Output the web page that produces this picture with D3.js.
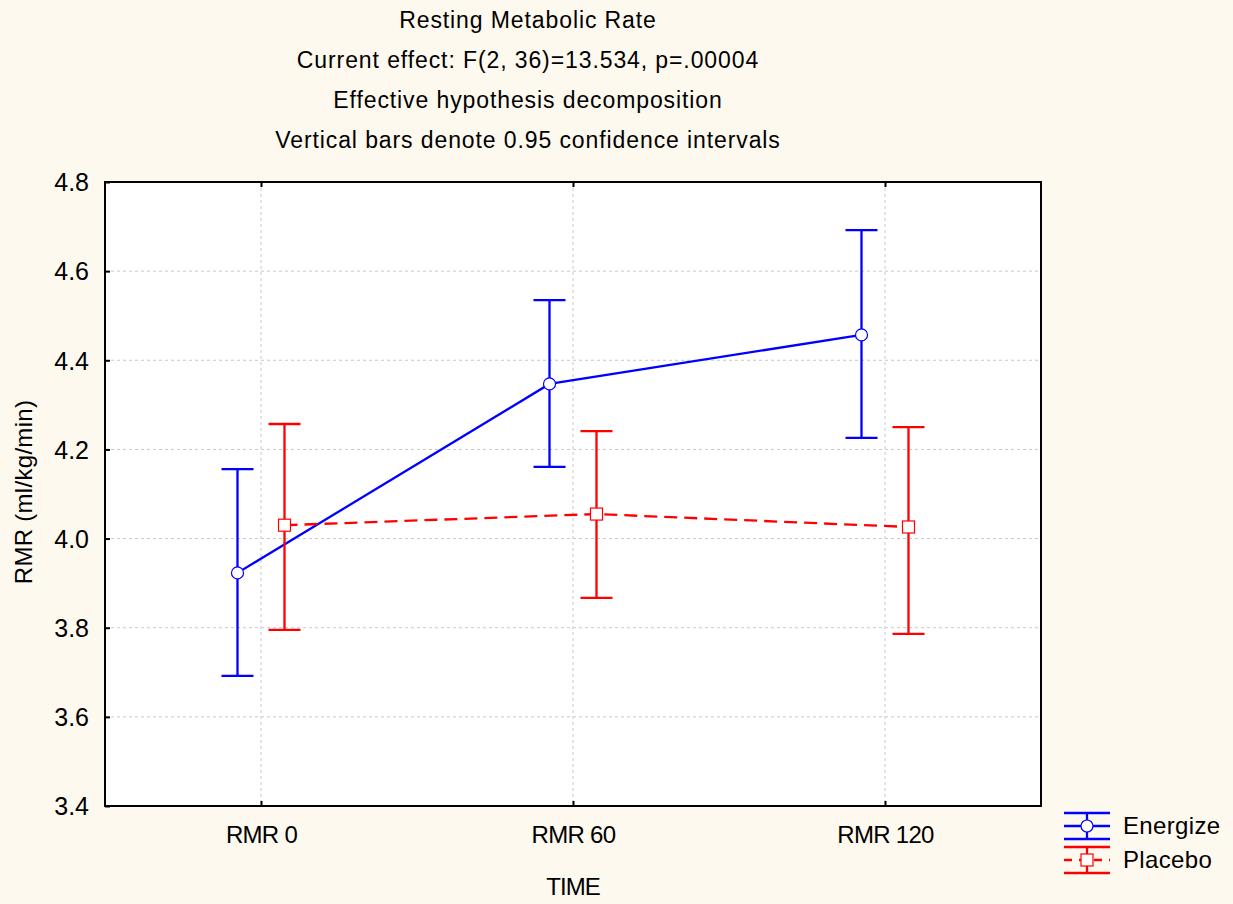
<!DOCTYPE html>
<html><head><meta charset="utf-8">
<script src="https://cdn.jsdelivr.net/npm/d3@7"></script>
<style>
html,body{margin:0;padding:0;background:#FEF9EF;}
text{font-family:"Liberation Sans",Arial,sans-serif;fill:#000;}
</style></head>
<body>
<svg id="chart" width="1233" height="904"></svg>
<script>
const titleLines = ["Resting Metabolic Rate","Current effect: F(2, 36)=13.534, p=.00004","Effective hypothesis decomposition","Vertical bars denote 0.95 confidence intervals"];
const categories = ["RMR 0","RMR 60","RMR 120"];
const yTicks = [3.4,3.6,3.8,4.0,4.2,4.4,4.6,4.8];
const seriesNames = ["Energize","Placebo"];
const energizeMean = [3.923,4.347,4.457];
const energizeLow  = [3.692,4.161,4.226];
const energizeHigh = [4.156,4.535,4.692];
const placeboMean  = [4.030,4.055,4.026];
const placeboLow   = [3.795,3.867,3.786];
const placeboHigh  = [4.257,4.241,4.250];
const xLabel = "TIME";
const yLabel = "RMR (ml/kg/min)";

const series = [
  {name:seriesNames[0], mean:energizeMean, low:energizeLow, high:energizeHigh, color:"#0000FF", dash:null, marker:"circle", offset:-23.5},
  {name:seriesNames[1], mean:placeboMean, low:placeboLow, high:placeboHigh, color:"#FF0000", dash:"13,7", marker:"square", offset:23.5}
];

const svg = d3.select("#chart");
const L=105, R=1041, T=182, B=806;
const x = d3.scalePoint().domain(categories).range([L,R]).padding(0.5);
const y = d3.scaleLinear().domain([3.4,4.8]).range([B,T]);

svg.append("rect").attr("x",L).attr("y",T).attr("width",R-L).attr("height",B-T).attr("fill","#fff");

// grid
const grid = svg.append("g").attr("stroke","#c8c8c8").attr("stroke-width",1).attr("stroke-dasharray","3,3");
yTicks.forEach(t=>{ if(t>3.4 && t<4.8) grid.append("line").attr("x1",L).attr("x2",R).attr("y1",y(t)).attr("y2",y(t)); });
categories.forEach(c=>{ grid.append("line").attr("x1",x(c)).attr("x2",x(c)).attr("y1",T).attr("y2",B); });

// axes (ticks inward)
const yAxis = d3.axisLeft(y).tickValues(yTicks).tickFormat(d3.format(".1f")).tickSize(-5).tickPadding(16);
const gy = svg.append("g").attr("transform",`translate(${L},0)`).call(yAxis);
gy.select(".domain").remove();
gy.selectAll(".tick line").attr("stroke","#000").attr("stroke-width",2);
gy.selectAll(".tick text").attr("font-size",25).attr("font-family","Liberation Sans, Arial, sans-serif").attr("dy","0.35em");

const xAxis = d3.axisBottom(x).tickSize(-5).tickPadding(20);
const gx = svg.append("g").attr("transform",`translate(0,${B})`).call(xAxis);
gx.select(".domain").remove();
gx.selectAll(".tick line").attr("stroke","#000").attr("stroke-width",2);
gx.selectAll(".tick text").attr("font-size",24).attr("font-family","Liberation Sans, Arial, sans-serif").attr("letter-spacing","-0.7");

const xTop = d3.axisTop(x).tickSize(-5).tickFormat("");
const gxt = svg.append("g").attr("transform",`translate(0,${T})`).call(xTop);
gxt.select(".domain").remove();
gxt.selectAll(".tick line").attr("stroke","#000").attr("stroke-width",2);

// frame
svg.append("rect").attr("x",L).attr("y",T).attr("width",R-L).attr("height",B-T).attr("fill","none").attr("stroke","#000").attr("stroke-width",2);

// series
const cap = 16;
series.forEach(s=>{
  const g = svg.append("g");
  const pts = categories.map((c,i)=>({x:x(c)+s.offset, m:s.mean[i], lo:s.low[i], hi:s.high[i]}));
  g.append("path").attr("d", d3.line().x(d=>d.x).y(d=>y(d.m))(pts))
    .attr("fill","none").attr("stroke",s.color).attr("stroke-width",2.3)
    .attr("stroke-dasharray",s.dash);
  pts.forEach(p=>{
    g.append("line").attr("x1",p.x).attr("x2",p.x).attr("y1",y(p.lo)).attr("y2",y(p.hi)).attr("stroke",s.color).attr("stroke-width",2.3);
    [p.lo,p.hi].forEach(v=>g.append("line").attr("x1",p.x-cap).attr("x2",p.x+cap).attr("y1",y(v)).attr("y2",y(v)).attr("stroke",s.color).attr("stroke-width",2.3));
    if(s.marker==="circle") g.append("circle").attr("cx",p.x).attr("cy",y(p.m)).attr("r",6).attr("fill","#fff").attr("stroke",s.color).attr("stroke-width",1.2);
    else g.append("rect").attr("x",p.x-6).attr("y",y(p.m)-6).attr("width",12).attr("height",12).attr("fill","#fff").attr("stroke",s.color).attr("stroke-width",1.2);
  });
});

// titles
const tg = svg.append("g");
titleLines.forEach((t,i)=>tg.append("text").attr("x",528).attr("y",28+i*40).attr("text-anchor","middle").attr("font-size",23).attr("letter-spacing","0.9").text(t));

svg.append("text").attr("x",573).attr("y",895).attr("text-anchor","middle").attr("font-size",24).attr("letter-spacing","-1").text(xLabel);
svg.append("text").attr("transform","translate(32,492) rotate(-90)").attr("text-anchor","middle").attr("font-size",24).attr("letter-spacing","0.3").text(yLabel);

// legend
const lg = svg.append("g");
const legY = [826, 860];
series.forEach((s,i)=>{
  const cy = legY[i], x0=1064, x1=1110, cx=1087;
  lg.append("line").attr("x1",x0).attr("x2",x1).attr("y1",cy-13).attr("y2",cy-13).attr("stroke",s.color).attr("stroke-width",2.3);
  lg.append("line").attr("x1",x0).attr("x2",x1).attr("y1",cy+13).attr("y2",cy+13).attr("stroke",s.color).attr("stroke-width",2.3);
  lg.append("line").attr("x1",cx).attr("x2",cx).attr("y1",cy-13).attr("y2",cy+13).attr("stroke",s.color).attr("stroke-width",2.3);
  lg.append("line").attr("x1",x0).attr("x2",x1).attr("y1",cy).attr("y2",cy).attr("stroke",s.color).attr("stroke-width",2.3).attr("stroke-dasharray",s.dash?"8,7":null);
  if(s.marker==="circle") lg.append("circle").attr("cx",cx).attr("cy",cy).attr("r",6).attr("fill","#fff").attr("stroke",s.color).attr("stroke-width",1.2);
  else lg.append("rect").attr("x",cx-6).attr("y",cy-6).attr("width",12).attr("height",12).attr("fill","#fff").attr("stroke",s.color).attr("stroke-width",1.2);
  lg.append("text").attr("x",1123).attr("y",cy+8).attr("font-size",24).attr("letter-spacing","0.35").text(s.name);
});
</script>
</body></html>
